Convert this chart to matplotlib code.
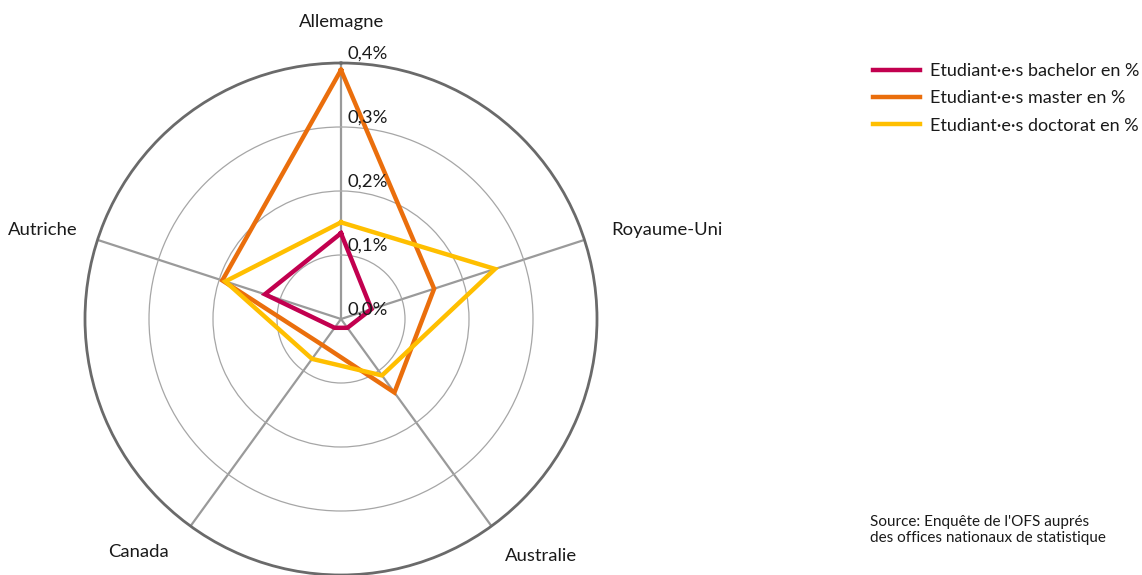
import numpy as np
import matplotlib.pyplot as plt

plt.rcParams['font.family'] = ['Lato', 'DejaVu Sans']

# pays et parts d'étudiant·e·s (en %)
pays = ["Allemagne", "Royaume-Uni", "Australie", "Canada", "Autriche"]
bachelor = [0.134, 0.05, 0.017, 0.017, 0.125]
master = [0.389, 0.153, 0.142, 0.05, 0.195]
doctorat = [0.151, 0.253, 0.109, 0.077, 0.19]
series = ["Etudiant·e·s bachelor en %", "Etudiant·e·s master en %",
          "Etudiant·e·s doctorat en %"]
couleurs = ["#C2004F", "#EA6E0C", "#FFBF00"]
graduation = [0.0, 0.1, 0.2, 0.3, 0.4]
source = "Source: Enquête de l'OFS auprés\ndes offices nationaux de statistique"

W, H = 1142, 575
fig = plt.figure(figsize=(W / 100, H / 100), dpi=100)

def px(x, y):
    return x / W, 1 - y / H

cx, cy, R = 341, 319, 256
ax = fig.add_axes([(cx - R) / W, (H - cy - R) / H, 2 * R / W, 2 * R / H],
                  projection="polar")
ax.set_theta_offset(np.pi / 2)
ax.set_theta_direction(-1)

angles = np.linspace(0, 2 * np.pi, len(pays), endpoint=False)
ferme = np.append(angles, angles[0])

for nom, vals, c in zip(series, [bachelor, master, doctorat], couleurs):
    ax.plot(ferme, vals + vals[:1], color=c, lw=3.2, label=nom,
            solid_joinstyle="miter", zorder=3)

ax.set_ylim(0, 0.4)
ax.set_yticks(graduation[1:-1])
ax.set_yticklabels([])
ax.set_xticks(angles)
ax.set_xticklabels([])
ax.yaxis.grid(True, color="#a6a6a6", lw=0.9)
ax.xaxis.grid(True, color="#9a9a9a", lw=1.6)
ax.spines["polar"].set_color("#6a6a6a")
ax.spines["polar"].set_linewidth(2.0)
ax.set_facecolor("white")

fs = 13.3

# graduation le long de l'axe vertical
for v in graduation:
    ax.annotate(f"{v:.1f}%".replace(".", ","), xy=(0, v), xytext=(5, 1),
                textcoords="offset points", ha="left", va="bottom",
                fontsize=fs, color="#1a1a1a", zorder=5,
                annotation_clip=False)

# noms des pays
fig.text(*px(342, 22), pays[0], ha="center", va="center", fontsize=fs, color="#1a1a1a")
fig.text(*px(611, 230), pays[1], ha="left", va="center", fontsize=fs, color="#1a1a1a")
fig.text(*px(505, 556), pays[2], ha="left", va="center", fontsize=fs, color="#1a1a1a")
fig.text(*px(169, 552), pays[3], ha="right", va="center", fontsize=fs, color="#1a1a1a")
fig.text(*px(78, 230), pays[4], ha="right", va="center", fontsize=fs, color="#1a1a1a")

fig.legend(loc="upper left", bbox_to_anchor=px(866, 56), frameon=False,
           fontsize=13, handlelength=2.6, handletextpad=0.55,
           labelspacing=0.62, borderaxespad=0, labelcolor="#1a1a1a")

fig.text(*px(870, 530), source, ha="left", va="center", fontsize=11,
         linespacing=1.15, color="#1a1a1a")

fig.savefig("out.png", dpi=100, facecolor="white")
